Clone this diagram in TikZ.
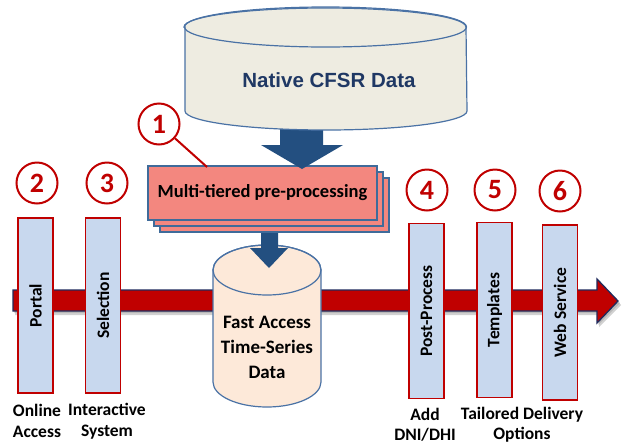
\documentclass[tikz,border=0pt]{standalone}
\usepackage{fontspec}
\setmainfont{Carlito}
\newfontfamily\arialf{Liberation Sans}
\definecolor{cred}{HTML}{C00000}
\definecolor{navyb}{HTML}{1F2A5C}
\definecolor{barfill}{HTML}{C8D8EE}
\definecolor{cylline}{HTML}{4A72A5}
\definecolor{cyltop}{HTML}{EEECE1}
\definecolor{cylfast}{HTML}{FDE9D9}
\definecolor{boxfill}{HTML}{F3877F}
\definecolor{boxline}{HTML}{3F6B9A}
\definecolor{bluearrow}{HTML}{234F80}
\definecolor{navytext}{HTML}{1F3864}
\begin{document}
\begin{tikzpicture}[x=1pt,y=-1pt,
  numcircle/.style={circle, draw=cred, line width=2pt, fill=white, minimum size=41pt, inner sep=0pt,
    font=\fontsize{28}{28}\selectfont\bfseries, text=cred},
  barbox/.style={draw=cred, line width=1.4pt, fill=barfill, rotate=90, minimum width=175pt,
    minimum height=35pt, inner sep=0pt, font=\fontsize{17.5}{19}\selectfont\bfseries},
  tier/.style={draw=boxline, line width=1.2pt, fill=boxfill, minimum width=229pt, minimum height=54pt, inner sep=0pt},
  lbl/.style={align=center, font=\fontsize{17.5}{20.5}\selectfont\bfseries},
  cyltext/.style={align=center, font=\fontsize{19}{25}\selectfont\bfseries}
]
\useasboundingbox (0,0) rectangle (626,445);

% red process arrow with shadow
\fill[black, opacity=0.18] (15,294) -- (599,294) -- (599,283) -- (621,305) -- (599,327) -- (599,315) -- (15,315) -- cycle;
\fill[black, opacity=0.12] (14,292) -- (598,292) -- (598,281) -- (620,303) -- (598,325) -- (598,313) -- (14,313) -- cycle;
\draw[fill=cred, draw=navyb, line width=1.3pt, line join=miter]
  (13,290) -- (597,290) -- (597,279) -- (618,301) -- (597,323) -- (597,311) -- (13,311) -- cycle;

% fast access cylinder
\draw[fill=cylfast, draw=cylline, line width=1.2pt]
  (213,270) -- (213,382) arc[start angle=180, end angle=0, x radius=54, y radius=25]
  -- (321,270) arc[start angle=0, end angle=-180, x radius=54, y radius=25] -- cycle;
\draw[draw=cylline, line width=1.2pt] (267,270) ellipse [x radius=54, y radius=25];
\node[cyltext] (fast) at (267,347) {Fast Access\\Time-Series\\Data};

% small blue arrow
\fill[bluearrow] (261,222) -- (278,222) -- (278,248) -- (288,248) -- (269,268) -- (250,248) -- (261,248) -- cycle;

% multi-tiered boxes
\node[tier] (tier3) at (274.5,205) {};
\node[tier] (tier2) at (268.5,199) {};
\node[tier, font=\fontsize{18.5}{20}\selectfont\bfseries] (tier1) at (262.5,193) {\raisebox{2pt}{Multi-tiered pre-processing}};

% big blue arrow
\fill[bluearrow] (280,108) -- (323,108) -- (323,145) -- (343,145) -- (302,169) -- (261,145) -- (280,145) -- cycle;

% native cylinder
\draw[fill=cyltop, draw=cylline, line width=1.2pt]
  (185,27) -- (185,111) arc[start angle=180, end angle=0, x radius=141, y radius=19]
  -- (466,27) arc[start angle=0, end angle=-180, x radius=141, y radius=19] -- cycle;
\draw[draw=cylline, line width=1.2pt] (325.5,27) ellipse [x radius=141, y radius=20];
\node[font=\arialf\fontsize{20.5}{22}\selectfont\bfseries, text=navytext] (native) at (329,80) {Native CFSR Data};

% bars
\node[barbox] (portal) at (35.5,305.5) {Portal};
\node[barbox] (select) at (103,305.5) {Selection};
\node[barbox] (post) at (426.5,311) {Post-Process};
\node[barbox] (templ) at (494.5,310) {Templates};
\node[barbox] (web) at (560,312.5) {Web Service};

% numbered circles
\node[numcircle] (c1) at (159,124) {1};
\coordinate (p1) at (207,167);
\draw[cred, line width=2pt] (c1) -- (p1);
\node[numcircle] (c2) at (37,183) {2};
\node[numcircle] (c3) at (107,183) {3};
\node[numcircle] (c4) at (427,190) {4};
\node[numcircle] (c5) at (495,190) {5};
\node[numcircle] (c6) at (560,191) {6};

% labels
\node[lbl] (l2) at (37,421) {Online\\Access};
\node[lbl] (l3) at (107,421) {Interactive\\System};
\node[lbl] (l4) at (425,424.5) {Add\\DNI/DHI};
\node[lbl] (l5) at (522,424.5) {Tailored Delivery\\Options};
\end{tikzpicture}
\end{document}
